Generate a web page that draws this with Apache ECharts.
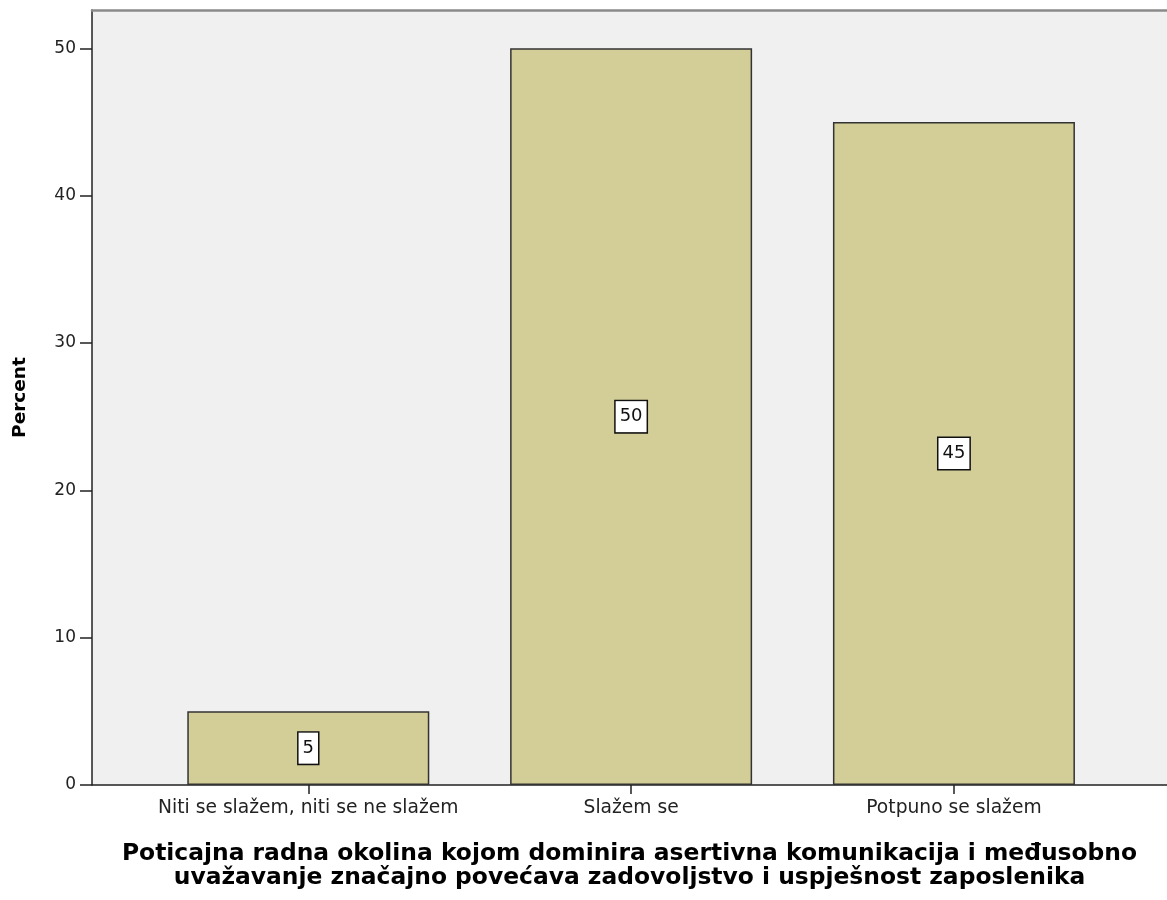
<!DOCTYPE html>
<html><head><meta charset="utf-8">
<script src="https://cdn.jsdelivr.net/npm/echarts@6/dist/echarts.min.js"></script>
<style>html,body{margin:0;padding:0;background:#fff}#c{width:1167px;height:900px}</style>
</head><body><div id="c"></div>
<script>
const categories = ["Niti se slažem, niti se ne slažem", "Slažem se", "Potpuno se slažem"];
const percentValues = [5, 50, 45];
const yTicks = [0, 10, 20, 30, 40, 50];
const xTitle = "Poticajna radna okolina kojom dominira asertivna komunikacija i međusobno\nuvažavanje značajno povećava zadovoljstvo i uspješnost zaposlenika";
const yTitle = "Percent";

const font = "'DejaVu Sans', sans-serif";
const chart = echarts.init(document.getElementById('c'), null, {renderer: 'canvas'});
chart.setOption({
  animation: false,
  grid: {left: 92, right: 0, top: 10, bottom: 115, show: true, backgroundColor: '#f0f0f0', borderWidth: 0},
  xAxis: [{
    type: 'value', min: -0.67, max: 2.66,
    axisLine: {show: true, onZero: false, lineStyle: {color: '#222', width: 1.5}},
    axisTick: {show: true, length: 9, customValues: [0, 1, 2], lineStyle: {color: '#222', width: 1.5}},
    axisLabel: {customValues: [0, 1, 2], formatter: v => categories[Math.round(v)] || '', color: '#222', fontFamily: font, fontSize: 18.7, margin: 14},
    splitLine: {show: false},
    name: xTitle, nameLocation: 'middle', nameGap: 57,
    nameTextStyle: {fontFamily: font, fontSize: 23.4, fontWeight: 'bold', color: '#000', lineHeight: 24}
  }, {
    type: 'value', position: 'top', min: -0.67, max: 2.66,
    axisLine: {show: true, onZero: false, lineStyle: {color: '#8a8a8a', width: 2.5}},
    axisTick: {show: false}, axisLabel: {show: false}, splitLine: {show: false}
  }],
  yAxis: {
    type: 'value', min: 0, max: 52.6,
    axisLine: {show: true, onZero: false, lineStyle: {color: '#222', width: 1.5}},
    axisTick: {show: true, length: 12, customValues: yTicks, lineStyle: {color: '#222', width: 1.5}},
    axisLabel: {customValues: yTicks, color: '#222', fontFamily: font, fontSize: 17, margin: 16},
    splitLine: {show: false},
    name: yTitle, nameLocation: 'middle', nameGap: 62, nameRotate: 90,
    nameTextStyle: {fontFamily: font, fontSize: 18.5, fontWeight: 'bold', color: '#000'}
  },
  series: [{
    type: 'bar', xAxisIndex: 0,
    data: percentValues.map((v, i) => [i, v]),
    barWidth: 242,
    itemStyle: {color: '#d3ce97', borderColor: '#333', borderWidth: 1.5},
    label: {
      show: true, position: 'inside', formatter: p => p.value[1],
      fontFamily: font, fontSize: 18, color: '#111', lineHeight: 22,
      backgroundColor: '#fff', borderColor: '#111', borderWidth: 1.5, padding: [5, 4, 4, 4]
    }
  }]
});
</script></body></html>
